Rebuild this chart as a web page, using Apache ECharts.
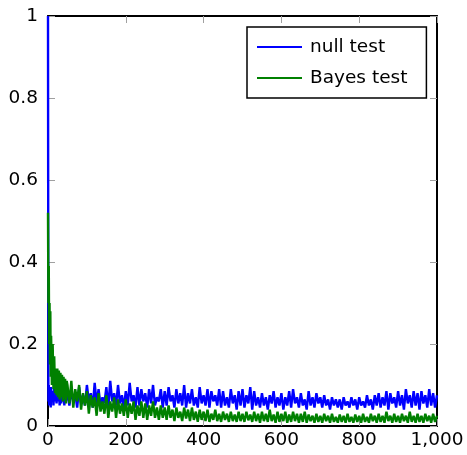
<!DOCTYPE html>
<html>
<head>
<meta charset="utf-8">
<script src="https://cdn.jsdelivr.net/npm/echarts@6/dist/echarts.min.js"></script>
<style>
  html, body { margin: 0; padding: 0; background: #fff; }
  #chart { width: 467px; height: 455px; }
</style>
</head>
<body>
<div id="chart"></div>
<script>
// first iterations, read point by point
var earlyX = [0, 1, 2, 3, 4, 5, 6, 7, 8, 10, 12, 14, 16, 18, 20, 22, 24, 26, 28, 30, 32, 34, 36, 38, 40, 42, 44, 46, 48];
var nullEarly = [1.0, 0.06, 0.1, 0.05, 0.09, 0.055, 0.08, 0.045, 0.095, 0.06, 0.085, 0.05, 0.09, 0.06, 0.08,
  0.055, 0.095, 0.06, 0.085, 0.05, 0.09, 0.055, 0.08, 0.06, 0.095, 0.05, 0.085, 0.06, 0.09];
var bayesEarly = [0.52, 0.3, 0.39, 0.2, 0.3, 0.15, 0.28, 0.12, 0.22, 0.1, 0.2, 0.09, 0.17, 0.08, 0.14,
  0.075, 0.14, 0.07, 0.135, 0.065, 0.13, 0.07, 0.125, 0.06, 0.12, 0.065, 0.115, 0.055, 0.11];

// from 50 to 1000, one value every 5 iterations
var mainStart = 50, mainStep = 5;
var nullMain = [
  0.09, 0.05, 0.085, 0.06, 0.08, 0.045, 0.095, 0.055, 0.075, 0.05,
  0.1, 0.06, 0.08, 0.045, 0.105, 0.055, 0.09, 0.05, 0.07, 0.055,
  0.095, 0.045, 0.11, 0.06, 0.08, 0.05, 0.1, 0.055, 0.075, 0.045,
  0.085, 0.05, 0.105, 0.06, 0.075, 0.045, 0.095, 0.05, 0.09, 0.06,
  0.08, 0.045, 0.09, 0.055, 0.1, 0.05, 0.07, 0.06, 0.09, 0.045,
  0.085, 0.05, 0.095, 0.06, 0.075, 0.045, 0.09, 0.055, 0.08, 0.05,
  0.1, 0.045, 0.08, 0.055, 0.09, 0.05, 0.07, 0.045, 0.095, 0.055,
  0.075, 0.05, 0.09, 0.045, 0.085, 0.06, 0.075, 0.05, 0.09, 0.045,
  0.085, 0.05, 0.07, 0.045, 0.09, 0.055, 0.075, 0.04, 0.085, 0.05,
  0.09, 0.045, 0.075, 0.055, 0.095, 0.04, 0.085, 0.05, 0.07, 0.045,
  0.08, 0.05, 0.07, 0.04, 0.075, 0.055, 0.085, 0.045, 0.07, 0.05,
  0.08, 0.04, 0.07, 0.05, 0.085, 0.045, 0.09, 0.055, 0.07, 0.045,
  0.08, 0.05, 0.065, 0.04, 0.085, 0.05, 0.07, 0.045, 0.08, 0.055,
  0.07, 0.045, 0.075, 0.05, 0.065, 0.04, 0.07, 0.05, 0.065, 0.045,
  0.065, 0.04, 0.07, 0.05, 0.06, 0.045, 0.07, 0.05, 0.065, 0.04,
  0.07, 0.05, 0.06, 0.045, 0.075, 0.05, 0.065, 0.04, 0.075, 0.05,
  0.08, 0.045, 0.07, 0.05, 0.085, 0.04, 0.08, 0.055, 0.07, 0.045,
  0.085, 0.05, 0.075, 0.04, 0.09, 0.055, 0.075, 0.045, 0.085, 0.05,
  0.08, 0.04, 0.085, 0.055, 0.075, 0.045, 0.09, 0.05, 0.08, 0.045,
  0.075
];
var bayesMain = [
  0.1, 0.055, 0.11, 0.045, 0.09, 0.06, 0.1, 0.04, 0.08, 0.05,
  0.085, 0.03, 0.075, 0.045, 0.07, 0.025, 0.08, 0.035, 0.06, 0.03,
  0.075, 0.02, 0.06, 0.035, 0.07, 0.02, 0.065, 0.03, 0.055, 0.025,
  0.065, 0.02, 0.055, 0.03, 0.06, 0.015, 0.05, 0.025, 0.06, 0.02,
  0.055, 0.015, 0.05, 0.025, 0.06, 0.02, 0.045, 0.015, 0.05, 0.02,
  0.045, 0.015, 0.05, 0.02, 0.04, 0.012, 0.045, 0.02, 0.035, 0.012,
  0.045, 0.018, 0.04, 0.012, 0.045, 0.015, 0.035, 0.01, 0.04, 0.015,
  0.035, 0.012, 0.04, 0.01, 0.03, 0.015, 0.04, 0.012, 0.03, 0.01,
  0.035, 0.015, 0.03, 0.01, 0.035, 0.012, 0.028, 0.01, 0.035, 0.012,
  0.03, 0.01, 0.035, 0.014, 0.028, 0.01, 0.035, 0.012, 0.03, 0.008,
  0.035, 0.012, 0.03, 0.01, 0.04, 0.012, 0.028, 0.008, 0.035, 0.01,
  0.03, 0.012, 0.035, 0.008, 0.028, 0.01, 0.035, 0.012, 0.03, 0.008,
  0.03, 0.01, 0.035, 0.008, 0.028, 0.012, 0.025, 0.008, 0.03, 0.01,
  0.025, 0.008, 0.03, 0.012, 0.025, 0.008, 0.03, 0.01, 0.022, 0.008,
  0.028, 0.01, 0.025, 0.008, 0.03, 0.01, 0.022, 0.008, 0.028, 0.01,
  0.025, 0.008, 0.03, 0.01, 0.022, 0.008, 0.03, 0.012, 0.025, 0.008,
  0.03, 0.01, 0.025, 0.008, 0.035, 0.012, 0.025, 0.008, 0.03, 0.01,
  0.025, 0.008, 0.03, 0.012, 0.025, 0.008, 0.035, 0.01, 0.025, 0.008,
  0.03, 0.01, 0.025, 0.008, 0.03, 0.012, 0.025, 0.008, 0.03, 0.01,
  0.025
];

function pairs(early, main) {
  var out = [];
  for (var i = 0; i < early.length; i++) out.push([earlyX[i], early[i]]);
  for (var j = 0; j < main.length; j++) out.push([mainStart + j * mainStep, main[j]]);
  return out;
}

var font = "DejaVu Sans";
var tickStyle = { show: true, inside: true, length: 7, lineStyle: { color: "#a0a0a0", width: 1 } };
var frameLine = { show: true, onZero: false, lineStyle: { color: "#000", width: 2 } };

var myChart = echarts.init(document.getElementById("chart"), null, { renderer: "canvas" });
var option = {
  animation: false,
  grid: { left: 48, right: 30, top: 16, bottom: 29 },
  xAxis: [
    {
      type: "value", min: 0, max: 1000, interval: 200, position: "bottom",
      axisLine: frameLine, axisTick: tickStyle, splitLine: { show: false },
      axisLabel: { margin: 5, color: "#000", fontSize: 18.5, fontFamily: font }
    },
    {
      type: "value", min: 0, max: 1000, interval: 200, position: "top",
      axisLine: frameLine, axisTick: tickStyle, splitLine: { show: false },
      axisLabel: { show: false }
    }
  ],
  yAxis: [
    {
      type: "value", min: 0, max: 1, interval: 0.2, position: "left",
      axisLine: frameLine, axisTick: tickStyle, splitLine: { show: false },
      axisLabel: { margin: 10, color: "#000", fontSize: 18.5, fontFamily: font }
    },
    {
      type: "value", min: 0, max: 1, interval: 0.2, position: "right",
      axisLine: frameLine, axisTick: tickStyle, splitLine: { show: false },
      axisLabel: { show: false }
    }
  ],
  legend: {
    orient: "vertical",
    left: 247, top: 27,
    padding: [10, 19, 10, 10],
    icon: "rect",
    itemWidth: 45, itemHeight: 2, itemGap: 11,
    borderColor: "#000", borderWidth: 1.5,
    backgroundColor: "#fff",
    textStyle: { color: "#000", fontSize: 18.5, fontFamily: font, lineHeight: 20, padding: [0, 0, 0, 3] },
    data: ["null test", "Bayes test"]
  },
  series: [
    {
      name: "null test", type: "line", symbol: "none", sampling: "none",
      lineStyle: { color: "#0000ff", width: 2.4 }, itemStyle: { color: "#0000ff" },
      data: pairs(nullEarly, nullMain)
    },
    {
      name: "Bayes test", type: "line", symbol: "none", sampling: "none",
      lineStyle: { color: "#008000", width: 2.4 }, itemStyle: { color: "#008000" },
      data: pairs(bayesEarly, bayesMain)
    }
  ]
};
myChart.setOption(option, true);
</script>
</body>
</html>
